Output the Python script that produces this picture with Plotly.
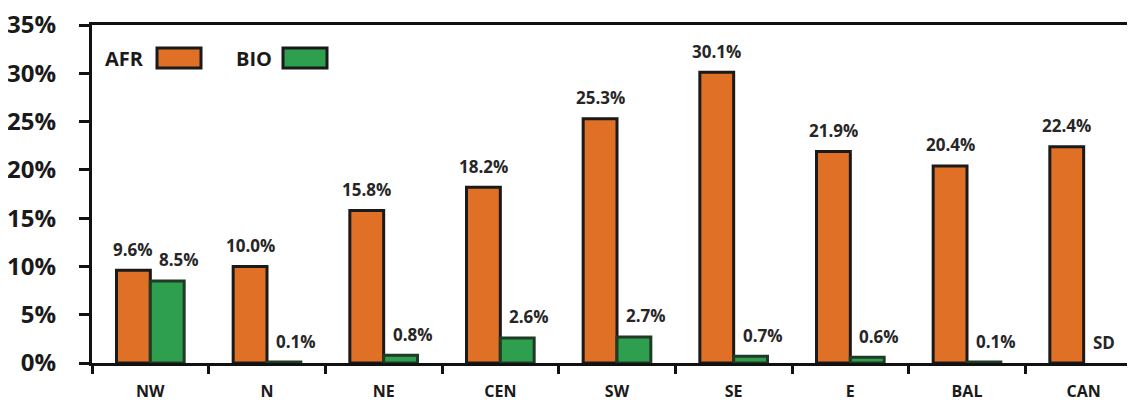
import plotly.graph_objects as go

categories = ["NW", "N", "NE", "CEN", "SW", "SE", "E", "BAL", "CAN"]
afr_values = [9.6, 10.0, 15.8, 18.2, 25.3, 30.1, 21.9, 20.4, 22.4]
bio_values = [8.5, 0.1, 0.8, 2.6, 2.7, 0.7, 0.6, 0.1, None]
afr_labels = ["9.6%", "10.0%", "15.8%", "18.2%", "25.3%", "30.1%", "21.9%", "20.4%", "22.4%"]
bio_labels = ["8.5%", "0.1%", "0.8%", "2.6%", "2.7%", "0.7%", "0.6%", "0.1%", "SD"]
y_ticks = [0, 5, 10, 15, 20, 25, 30, 35]
y_tick_labels = ["0%", "5%", "10%", "15%", "20%", "25%", "30%", "35%"]

ORANGE = "#E07026"
GREEN = "#2E9E4F"
FONT = "Open Sans"
LABEL_FONT = dict(family=FONT, size=17, color="#262626", weight="bold")

# plot area in page pixels (page body has an 8px offset)
PX0, PX1, PY0, PY1 = 92, 1142, 25, 363

def px(x):
    return (x - PX0) / (PX1 - PX0)

def py(y):
    return (PY1 - y) / (PY1 - PY0)

fig = go.Figure()
fig.add_trace(go.Bar(
    x=categories, y=afr_values, name="AFR",
    marker=dict(color=ORANGE, line=dict(color="#1a1a1a", width=3)),
))
fig.add_trace(go.Bar(
    x=categories, y=bio_values, name="BIO",
    marker=dict(color=GREEN, line=dict(color="#1f3a25", width=3)),
))

# value labels above bars
for c, v, t in zip(categories, afr_values, afr_labels):
    fig.add_annotation(x=c, y=v, text=t, showarrow=False, xshift=-17, yshift=21,
                       yanchor="middle", font=LABEL_FONT)
for c, v, t in zip(categories, bio_values, bio_labels):
    fig.add_annotation(x=c, y=v if v is not None else 0, text=t, showarrow=False,
                       xshift=29 if v is not None else 20, yshift=21,
                       yanchor="middle", font=LABEL_FONT)

# Legend drawn manually (text before swatch)
legend_items = [("AFR", ORANGE, 103, 157), ("BIO", GREEN, 234, 283)]
for name, col, tx, bx in legend_items:
    fig.add_annotation(xref="paper", yref="paper", x=px(tx), y=py(58),
                       xanchor="left", yanchor="middle", text=name, showarrow=False,
                       font=dict(family=FONT, size=20, color="#1a1a1a", weight="bold"))
    fig.add_shape(type="rect", xref="paper", yref="paper",
                  x0=px(bx), x1=px(bx + 44), y0=py(68), y1=py(48),
                  fillcolor=col, line=dict(color="#1a1a1a", width=3))

fig.update_layout(
    width=1135, height=403,
    margin=dict(l=PX0 - 8, r=1, t=PY0 - 8, b=403 - (PY1 - 8)),
    plot_bgcolor="white", paper_bgcolor="white",
    barmode="group", bargap=0.42, bargroupgap=0,
    showlegend=False,
    font=dict(family=FONT, color="#1a1a1a"),
)
fig.update_xaxes(
    range=[-0.5, 8.5], showline=True, linecolor="#111", linewidth=3, mirror=True,
    ticks="outside", tickson="boundaries", ticklen=8, tickwidth=3, tickcolor="#111",
    tickfont=dict(family=FONT, size=16, color="#1a1a1a", weight="bold"),
    ticklabelstandoff=12, showgrid=False, automargin=False,
)
fig.update_yaxes(
    range=[0, 35], tickvals=y_ticks, ticktext=y_tick_labels,
    showline=True, linecolor="#111", linewidth=3,
    ticks="outside", ticklen=10, tickwidth=3, tickcolor="#111",
    tickfont=dict(family=FONT, size=24, color="#1a1a1a", weight="bold"),
    ticklabelstandoff=18, ticklabeloverflow="allow",
    showgrid=False, zeroline=False, automargin=False,
)

fig.write_html("out.html")
